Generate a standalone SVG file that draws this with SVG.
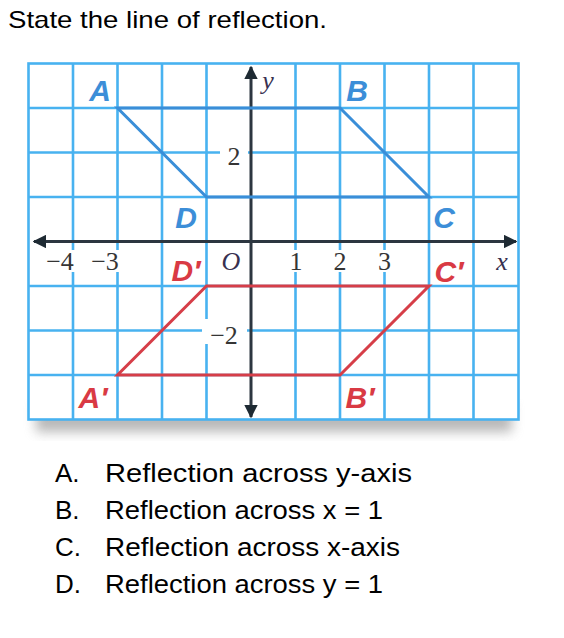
<svg xmlns="http://www.w3.org/2000/svg" width="564" height="638" viewBox="0 0 564 638">
<defs>
<style>
.grid{stroke:#48b2f0;stroke-width:2.6;fill:none}
.axis{stroke:#2c3640;stroke-width:3;fill:none}
.pt{font-family:"Liberation Sans",Arial,sans-serif;font-weight:bold;font-style:italic;font-size:30px}
.blue{fill:#3c8ed8}
.red{fill:#d93a44}
.num{font-family:"Liberation Serif","Times New Roman",serif;font-size:26px;fill:#353535}
.var{font-family:"Liberation Serif","Times New Roman",serif;font-style:italic;font-size:26px;fill:#383050}
.q{font-family:"Liberation Sans",Arial,sans-serif;fill:#000}
</style>
<marker id="ah" viewBox="0 0 10 10" refX="9" refY="5" markerWidth="4.5" markerHeight="4.5" orient="auto-start-reverse" markerUnits="strokeWidth">
<path d="M0,0 L10,5 L0,10 z" fill="#1e2a33"/>
</marker>
<filter id="sh" x="-10%" y="-10%" width="120%" height="140%">
<feGaussianBlur stdDeviation="6"/>
</filter>
</defs>
<rect width="564" height="638" fill="#fff"/>
<text class="q" x="8" y="28" font-size="24" textLength="319" lengthAdjust="spacingAndGlyphs">State the line of reflection.</text>
<g id="shadow">
<rect x="36" y="402" width="476" height="30" fill="#8a8a8a" opacity="0.6" filter="url(#sh)"/>
</g>
<g id="grid">
<rect x="28.5" y="63.5" width="490" height="356" fill="#fff"/>
<path class="grid" d="M73 63.5V419.5M117.5 63.5V419.5M162 63.5V419.5M206.5 63.5V419.5M295.5 63.5V419.5M340 63.5V419.5M384.5 63.5V419.5M429 63.5V419.5M473.5 63.5V419.5M28.5 108H518.5M28.5 152.5H518.5M28.5 197H518.5M28.5 286H518.5M28.5 330.5H518.5M28.5 375H518.5"/>
<rect class="grid" x="28.5" y="63.5" width="490" height="356" stroke-width="3"/>
</g>
<g id="number-bg" fill="#fff">
<rect x="220" y="141" width="28" height="25"/>
<rect x="202" y="319" width="45" height="25"/>
<rect x="38" y="250" width="90" height="22"/>
<rect x="286" y="250" width="112" height="22"/>
<rect x="216" y="249" width="30" height="24"/>
<rect x="490" y="249" width="24" height="24"/>
<rect x="257" y="69" width="22" height="25"/>
</g>
<g id="axes">
<line class="axis" x1="34" y1="241.5" x2="516" y2="241.5" marker-start="url(#ah)" marker-end="url(#ah)"/>
<line class="axis" x1="251" y1="67" x2="251" y2="417" marker-start="url(#ah)" marker-end="url(#ah)"/>
</g>
<g id="shape-ABCD">
<polygon points="117.5,108 340,108 429,197 206.5,197" fill="none" stroke="#3a8ed8" stroke-width="3" stroke-linejoin="miter"/>
</g>
<g id="shape-A1B1C1D1">
<polygon points="117.5,375 340,375 429,286 206.5,286" fill="none" stroke="#d63e48" stroke-width="3" stroke-linejoin="miter"/>
</g>
<g id="axis-labels">
<text class="num" x="234" y="165" text-anchor="middle">2</text>
<text class="num" x="224" y="344" text-anchor="middle">−2</text>
<text class="num" x="60" y="270" text-anchor="middle">−4</text>
<text class="num" x="105" y="270" text-anchor="middle">−3</text>
<text class="num" x="296" y="270" text-anchor="middle">1</text>
<text class="num" x="340" y="270" text-anchor="middle">2</text>
<text class="num" x="384.5" y="270" text-anchor="middle">3</text>
<text class="var" x="231" y="270" text-anchor="middle">O</text>
<text class="var" x="502" y="270" text-anchor="middle">x</text>
<text class="var" x="268" y="89" text-anchor="middle">y</text>
</g>
<g id="point-labels">
<text class="pt blue" x="100" y="101" text-anchor="middle">A</text>
<text class="pt blue" x="357" y="101" text-anchor="middle">B</text>
<text class="pt blue" x="444" y="228" text-anchor="middle">C</text>
<text class="pt blue" x="186" y="228" text-anchor="middle">D</text>
<text class="pt red" x="93" y="408" text-anchor="middle">A′</text>
<text class="pt red" x="360" y="408" text-anchor="middle">B′</text>
<text class="pt red" x="449" y="282" text-anchor="middle">C′</text>
<text class="pt red" x="186" y="281" text-anchor="middle">D′</text>
</g>
<g id="options" font-size="26">
<text class="q" x="55" y="482">A.</text>
<text class="q" x="105" y="482" textLength="307" lengthAdjust="spacingAndGlyphs">Reflection across y-axis</text>
<text class="q" x="55" y="519">B.</text>
<text class="q" x="105" y="519" textLength="278" lengthAdjust="spacingAndGlyphs">Reflection across x = 1</text>
<text class="q" x="55" y="556">C.</text>
<text class="q" x="105" y="556" textLength="295" lengthAdjust="spacingAndGlyphs">Reflection across x-axis</text>
<text class="q" x="55" y="593">D.</text>
<text class="q" x="105" y="593" textLength="278" lengthAdjust="spacingAndGlyphs">Reflection across y = 1</text>
</g>
</svg>
